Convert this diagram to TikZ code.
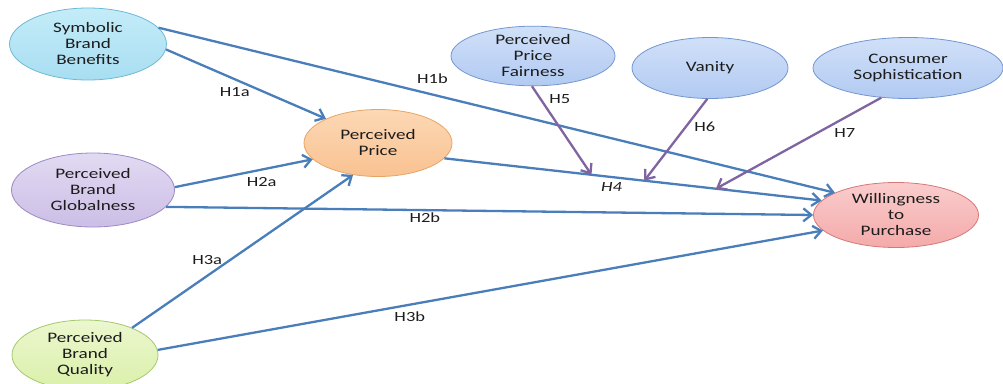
\documentclass[tikz,border=0pt]{standalone}
\usepackage{fontspec}
\setmainfont{Carlito}[FakeStretch=1.32]
\usetikzlibrary{positioning, arrows.meta}
\usetikzlibrary{shapes}

\definecolor{pathblue}{HTML}{4A7EBB}
\definecolor{modpurple}{HTML}{8064A2}
\definecolor{txtgray}{HTML}{1C1C1C}

\tikzset{
	construct/.style={ellipse, draw, line width=0.8pt, inner sep=0pt, align=center, text=txtgray,
		font=\fontsize{14.5}{16}\selectfont},
	hyp/.style={pathblue, line width=2.3pt, -{Straight Barb[length=8pt,width=13pt]}},
	moder/.style={hyp, modpurple},
	hlabel/.style={font=\fontsize{14}{16}\selectfont, inner sep=0pt, text=txtgray}
}

\begin{document}
\begin{tikzpicture}[x=1pt,y=-1pt]
		\useasboundingbox (0,0) rectangle (1003,383);
		% constructs
		\node [construct, minimum width=157pt, minimum height=72pt, top color={rgb,255:red,196;green,236;blue,248}, bottom color={rgb,255:red,168;green,222;blue,242}, draw={rgb,255:red,110;green,185;blue,215}] (sbb) at (88,44) {Symbolic\\Brand\\Benefits};
		\node [construct, minimum width=163pt, minimum height=74pt, top color={rgb,255:red,226;green,218;blue,242}, bottom color={rgb,255:red,204;green,190;blue,230}, draw={rgb,255:red,155;green,138;blue,198}] (pbg) at (93,190) {Perceived\\Brand\\Globalness};
		\node [construct, minimum width=146pt, minimum height=70pt, top color={rgb,255:red,236;green,247;blue,206}, bottom color={rgb,255:red,218;green,240;blue,170}, draw={rgb,255:red,165;green,200;blue,110}] (pbq) at (85,355) {Perceived\\Brand\\Quality};
		\node [construct, minimum width=148pt, minimum height=67pt, top color={rgb,255:red,252;green,216;blue,180}, bottom color={rgb,255:red,249;green,194;blue,146}, draw={rgb,255:red,230;green,165;blue,100}] (pp) at (378,143) {Perceived\\Price};
		\node [construct, minimum width=164pt, minimum height=59pt, top color={rgb,255:red,208;green,224;blue,248}, bottom color={rgb,255:red,178;green,202;blue,242}, draw={rgb,255:red,115;green,150;blue,208}] (ppf) at (533,56) {Perceived\\Price\\Fairness};
		\node [construct, minimum width=156pt, minimum height=61pt, top color={rgb,255:red,208;green,224;blue,248}, bottom color={rgb,255:red,178;green,202;blue,242}, draw={rgb,255:red,115;green,150;blue,208}] (van) at (710,68) {Vanity};
		\node [construct, minimum width=190pt, minimum height=61pt, top color={rgb,255:red,208;green,224;blue,248}, bottom color={rgb,255:red,178;green,202;blue,242}, draw={rgb,255:red,115;green,150;blue,208}] (cs) at (908,68) {Consumer\\Sophistication};
		\node [construct, minimum width=165pt, minimum height=65pt, top color={rgb,255:red,250;green,204;blue,204}, bottom color={rgb,255:red,244;green,170;blue,170}, draw={rgb,255:red,215;green,120;blue,120}] (wtp) at (896,215) {Willingness\\to\\Purchase};

		% direct paths
		\draw [hyp] (sbb.-4) -- node [hlabel, pos=0.43, yshift=-13pt] {H1a} (pp.155);
		\draw [hyp] (sbb.13) -- node [hlabel, pos=0.405, yshift=16pt] {H1b} (wtp.160);
		\draw [hyp] (pbg.2) -- node [hlabel, pos=0.63, yshift=-12pt] {H2a} (pp.194);
		\draw [hyp] (pbg.-13) -- node [hlabel, pos=0.4, yshift=-8pt] {H2b} (wtp.180);
		\draw [hyp] (pbq.30) -- node [hlabel, pos=0.34, yshift=16pt] {H3a} (pp.232);
		\draw [hyp] (pbq.4) -- node [hlabel, pos=0.379, yshift=-12pt] {H3b} (wtp.192);
		\draw [hyp] (pp.-13) -- coordinate [pos=0.39] (m5) coordinate [pos=0.53] (m6) coordinate [pos=0.72] (m7)
			node [hlabel, pos=0.443, yshift=-10pt, font=\fontsize{14}{16}\selectfont\itshape] {H4} (wtp.169);

		% moderators
		\draw [moder] (ppf.-92) -- node [hlabel, pos=0.15, xshift=19pt] {H5} (m5);
		\draw [moder] (van.-95) -- node [hlabel, pos=0.34, xshift=19pt] {H6} (m6);
		\draw [moder] (cs.228) -- node [hlabel, pos=0.39, xshift=28pt] {H7} (m7);
	\end{tikzpicture}
\end{document}
